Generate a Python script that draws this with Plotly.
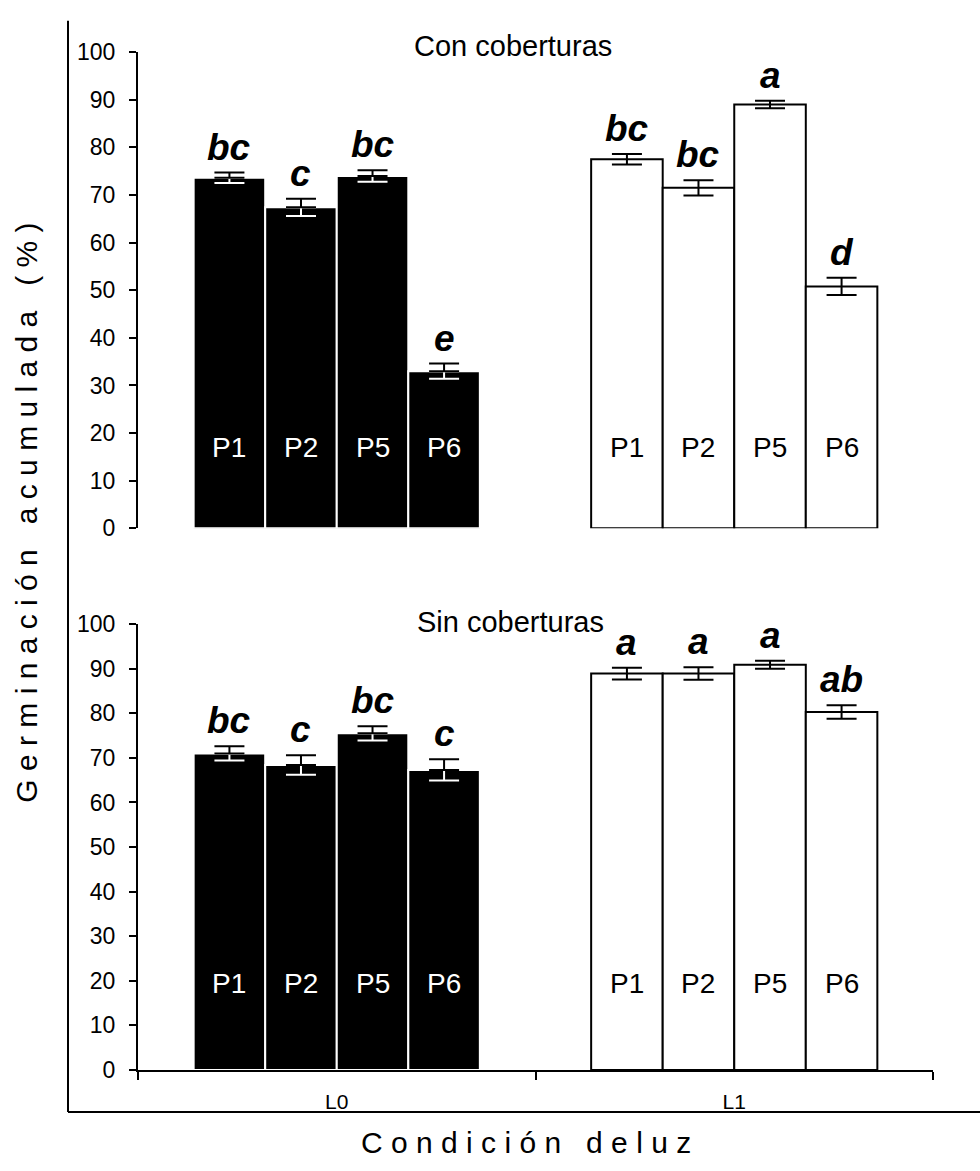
import plotly.graph_objects as go

# ---------------- data ----------------
conditions = ["L0", "L1"]
positions = ["P1", "P2", "P5", "P6"]

con_L0 = [73.6, 67.4, 74.0, 33.0]
con_L0_err = [1.1, 1.8, 1.2, 1.6]
con_L0_letters = ["bc", "c", "bc", "e"]
con_L1 = [77.5, 71.5, 89.0, 50.8]
con_L1_err = [1.1, 1.6, 0.8, 1.8]
con_L1_letters = ["bc", "bc", "a", "d"]

sin_L0 = [71.0, 68.4, 75.5, 67.3]
sin_L0_err = [1.6, 2.2, 1.6, 2.4]
sin_L0_letters = ["bc", "c", "bc", "c"]
sin_L1 = [88.9, 88.9, 90.9, 80.3]
sin_L1_err = [1.3, 1.4, 0.9, 1.5]
sin_L1_letters = ["a", "a", "a", "ab"]

y_ticks = list(range(0, 101, 10))
panel_titles = ["Con coberturas", "Sin coberturas"]
y_title = "Germinación acumulada (%)"
x_title = "Condición de luz"

# ---------------- figure ----------------
W, H = 980, 1171
BW = 0.18
OFF0 = -0.36
FONT = "Liberation Sans, Arial, sans-serif"

def spaced(s, gap="\u00a0", wordgap="\u00a0\u00a0\u00a0"):
    return wordgap.join(gap.join(list(w)) for w in s.split(" "))

fig = go.Figure()

panels = [
    ("x", "y", [con_L0, con_L1], [con_L0_err, con_L1_err], [con_L0_letters, con_L1_letters], 16.9),
    ("x2", "y2", [sin_L0, sin_L1], [sin_L0_err, sin_L1_err], [sin_L0_letters, sin_L1_letters], 19.3),
]

annotations = []
for xa, ya, vals, errs, letters, plab_y in panels:
    # bars
    for g, cond in enumerate(conditions):
        dark = (g == 0)
        for i, p in enumerate(positions):
            fig.add_trace(go.Bar(
                x=[cond], y=[vals[g][i]], width=BW, offset=OFF0 + BW * i,
                marker=dict(color="black" if dark else "white",
                            line=dict(color="white" if dark else "black", width=2)),
                xaxis=xa, yaxis=ya, showlegend=False, hoverinfo="skip"))
    # error bars: lower half drawn white inside the dark bars
    for g, cond in enumerate(conditions):
        if g != 0:
            continue
        for i, p in enumerate(positions):
            fig.add_trace(go.Bar(
                x=[cond], y=[vals[g][i]], width=BW, offset=OFF0 + BW * i,
                marker=dict(color="rgba(0,0,0,0)", line=dict(width=0)),
                error_y=dict(type="data", symmetric=False, array=[0],
                             arrayminus=[errs[g][i]], color="white",
                             thickness=2, width=15),
                xaxis=xa, yaxis=ya, showlegend=False, hoverinfo="skip"))
    for g, cond in enumerate(conditions):
        dark = (g == 0)
        for i, p in enumerate(positions):
            fig.add_trace(go.Bar(
                x=[cond], y=[vals[g][i]], width=BW, offset=OFF0 + BW * i,
                marker=dict(color="rgba(0,0,0,0)", line=dict(width=0)),
                error_y=dict(type="data", symmetric=False, array=[errs[g][i]],
                             arrayminus=[0 if dark else errs[g][i]], color="black",
                             thickness=2, width=15),
                xaxis=xa, yaxis=ya, showlegend=False, hoverinfo="skip"))
    # letters and position labels
    for g, cond in enumerate(conditions):
        dark = (g == 0)
        for i, p in enumerate(positions):
            xc = g + OFF0 + BW * i + BW / 2
            annotations.append(dict(
                x=xc, y=vals[g][i] + errs[g][i], xref=xa, yref=ya,
                text="<b><i>" + letters[g][i] + "</i></b>", showarrow=False,
                yanchor="bottom", yshift=3,
                font=dict(family=FONT, size=37, color="black")))
            annotations.append(dict(
                x=xc, y=plab_y, xref=xa, yref=ya, text=p, showarrow=False,
                yanchor="middle",
                font=dict(family=FONT, size=28,
                          color="white" if dark else "black")))

# panel titles
annotations.append(dict(x=513 / W, y=1 - 34 / H, xref="paper", yref="paper",
                        text=panel_titles[0], showarrow=False, yanchor="middle",
                        font=dict(family=FONT, size=29, color="black")))
annotations.append(dict(x=510 / W, y=1 - 623 / H, xref="paper", yref="paper",
                        text=panel_titles[1], showarrow=False, yanchor="middle",
                        font=dict(family=FONT, size=29, color="black")))
# axis titles
annotations.append(dict(x=27 / W, y=1 - 511 / H, xref="paper", yref="paper",
                        text=spaced(y_title), textangle=-90, showarrow=False,
                        xanchor="center", yanchor="middle",
                        font=dict(family=FONT, size=30, color="black")))
annotations.append(dict(x=526 / W, y=1 - 1155 / H, xref="paper", yref="paper",
                        text=spaced("Condición") + "\u00a0\u00a0\u00a0" + spaced("deluz"),
                        showarrow=False, xanchor="center", yanchor="middle",
                        font=dict(family=FONT, size=30, color="black")))

xdom = [138 / W, 933 / W]
tickfont = dict(family=FONT, size=23, color="black")
yaxis_common = dict(range=[0, 100], tickvals=y_ticks, showline=True, linecolor="black",
                    linewidth=2, ticks="outside", ticklen=7, tickwidth=2, tickcolor="black",
                    showgrid=False, zeroline=False, tickfont=tickfont, ticklabelstandoff=9,
                    fixedrange=True)

fig.update_layout(
    width=W, height=H,
    margin=dict(l=0, r=0, t=0, b=0),
    paper_bgcolor="white", plot_bgcolor="rgba(0,0,0,0)",
    barmode="overlay",
    showlegend=False,
    xaxis=dict(domain=xdom, anchor="y", type="category", categoryorder="array",
               categoryarray=conditions, range=[-0.5, 1.5], visible=False),
    yaxis=dict(domain=[1 - 527 / H, 1 - 40 / H], anchor="x", **yaxis_common),
    xaxis2=dict(domain=xdom, anchor="y2", type="category", categoryorder="array",
                categoryarray=conditions, range=[-0.5, 1.5], showline=True,
                linecolor="black", linewidth=2, ticks="outside", ticklen=8, tickwidth=2,
                tickcolor="black", tickson="boundaries", showgrid=False,
                tickfont=dict(family=FONT, size=21, color="black"),
                ticklabelstandoff=12),
    yaxis2=dict(domain=[1 - 1081 / H, 1 - 625 / H], anchor="x2", **yaxis_common),
    annotations=annotations,
    shapes=[
        dict(type="line", xref="paper", yref="paper", x0=68 / W, x1=68 / W,
             y0=1 - 8 / H, y1=1 - 1124 / H, line=dict(color="black", width=2)),
        dict(type="line", xref="paper", yref="paper", x0=68 / W, x1=1.0,
             y0=1 - 1124 / H, y1=1 - 1124 / H, line=dict(color="black", width=2)),
    ],
)

fig.write_html("out.html")
